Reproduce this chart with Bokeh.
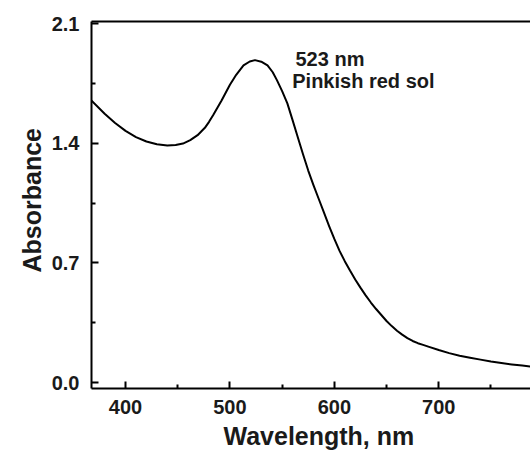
from bokeh.plotting import figure
from bokeh.models import LinearAxis, FixedTicker, Label, Range1d, NumeralTickFormatter, Title
from bokeh.embed import file_html
from bokeh.resources import INLINE

# Data
wavelength = [367, 380, 390, 400, 410, 420, 430, 440, 448, 455, 462, 469, 476, 480,
              484, 492, 500, 506, 513, 519, 524, 530, 536, 541, 545, 550, 555, 560,
              565, 570, 575, 580, 585, 590, 595, 600, 605, 610, 615, 620, 625, 630,
              635, 640, 645, 650, 655, 660, 665, 670, 675, 680, 685, 690, 700, 710,
              720, 730, 740, 750, 760, 770, 780, 788]
absorbance = [1.652, 1.572, 1.518, 1.472, 1.436, 1.410, 1.394, 1.387, 1.389, 1.398,
              1.418, 1.447, 1.490, 1.525, 1.565, 1.650, 1.742, 1.800, 1.855, 1.878,
              1.886, 1.877, 1.855, 1.815, 1.769, 1.705, 1.633, 1.535, 1.435, 1.335,
              1.240, 1.155, 1.075, 0.995, 0.915, 0.840, 0.770, 0.710, 0.655, 0.603,
              0.555, 0.510, 0.468, 0.430, 0.395, 0.360, 0.330, 0.303, 0.280, 0.260,
              0.243, 0.230, 0.220, 0.210, 0.190, 0.172, 0.157, 0.145, 0.134, 0.123,
              0.114, 0.106, 0.099, 0.094]

x_major = [400, 500, 600, 700]
x_minor = [450, 550, 650, 750]
y_major = [0.0, 0.7, 1.4, 2.1]
y_minor = [0.35, 1.05, 1.75]

x_title = "Wavelength, nm"
y_title = "Absorbance"
peak_label = "523 nm"
sol_label = "Pinkish red sol"

FONT = "Liberation Sans"

p = figure(width=530, height=454,
           x_range=Range1d(367.4, 787.9), y_range=Range1d(-0.035, 2.112),
           output_backend="svg", toolbar_location=None,
           min_border_left=91, min_border_top=21, min_border_right=0, min_border_bottom=66)
p.grid.visible = False
p.outline_line_color = None
p.background_fill_color = "white"
p.border_fill_color = "white"

p.line(wavelength, absorbance, line_color="black", line_width=2, line_join="round")

xa = p.xaxis[0]
xa.ticker = FixedTicker(ticks=x_major, minor_ticks=x_minor)
ya = p.yaxis[0]
ya.ticker = FixedTicker(ticks=y_major, minor_ticks=y_minor)
ya.formatter = NumeralTickFormatter(format="0.0")

for ax in (xa, ya):
    ax.axis_line_color = "black"
    ax.axis_line_width = 2
    ax.major_tick_line_color = "black"
    ax.major_tick_line_width = 2
    ax.minor_tick_line_color = "black"
    ax.minor_tick_line_width = 2
    ax.major_tick_in = 7
    ax.major_tick_out = 0
    ax.minor_tick_in = 4
    ax.minor_tick_out = 0
    ax.major_label_text_font = FONT
    ax.major_label_text_font_style = "bold"
    ax.major_label_text_font_size = "20px"
    ax.major_label_text_color = "#1a1a1a"

xa.major_label_standoff = 11
ya.major_label_standoff = 12

top = LinearAxis(ticker=FixedTicker(ticks=[]), axis_line_width=2, axis_line_color="black",
                 major_tick_line_color=None, minor_tick_line_color=None,
                 major_label_text_font_size="0px")
p.add_layout(top, "above")

# axis titles (the original frame runs past the crop, so they sit off centre)
p.add_layout(Title(text=x_title, align="left", offset=132, standoff=7,
                   text_line_height=0.7,
                   text_font=FONT, text_font_style="bold", text_font_size="25px",
                   text_color="#1a1a1a"), "below")
p.add_layout(Title(text=y_title, align="left", offset=116, standoff=5,
                   text_font=FONT, text_font_style="bold", text_font_size="25px",
                   text_color="#1a1a1a"), "left")

for txt, xx, yy in ((peak_label, 562.8, 1.894), (sol_label, 559.7, 1.765)):
    p.add_layout(Label(x=xx, y=yy, text=txt, text_font=FONT, text_font_style="bold",
                       text_font_size="20px", text_color="#1a1a1a",
                       text_baseline="alphabetic"))

open("out.html", "w").write(file_html(p, INLINE))
